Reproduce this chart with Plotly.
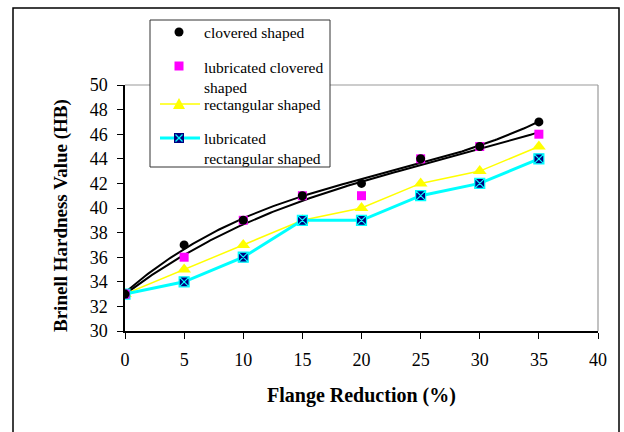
import numpy as np
import plotly.graph_objects as go

# ---- data ----
reduction = [0, 5, 10, 15, 20, 25, 30, 35]
clovered = [33, 37, 39, 41, 42, 44, 45, 47]
lub_clovered = [33, 36, 39, 41, 41, 44, 45, 46]
rectangular = [33, 35, 37, 39, 40, 42, 43, 45]
lub_rectangular = [33, 34, 36, 39, 39, 41, 42, 44]
x_ticks = [0, 5, 10, 15, 20, 25, 30, 35, 40]
y_ticks = [30, 32, 34, 36, 38, 40, 42, 44, 46, 48, 50]
names = ["clovered shaped", "lubricated clovered<br>shaped", "rectangular shaped",
         "lubricated<br>rectangular shaped"]

W, H = 624, 432
L, R, T, B = 125, 598, 85, 331  # plot area pixels
FONT = "Liberation Serif"


def px(x):
    return (x - L) / (R - L)


def py(y):
    return (B - y) / (B - T)


fig = go.Figure()

# trendlines (polynomial fits of the clovered series)
xs = np.linspace(0, 35, 200)
for ys in (clovered, lub_clovered):
    c = np.polyfit(reduction, ys, 3)
    fig.add_trace(go.Scatter(x=xs, y=np.polyval(c, xs), mode="lines",
                             line=dict(color="black", width=2), showlegend=False,
                             hoverinfo="skip"))

fig.add_trace(go.Scatter(x=reduction, y=rectangular, mode="lines+markers",
                         line=dict(color="#FFFF00", width=1.5),
                         marker=dict(symbol="triangle-up", size=12, color="#FFFF00"),
                         showlegend=False))
fig.add_trace(go.Scatter(x=reduction, y=lub_rectangular, mode="lines+markers",
                         line=dict(color="#00FFFF", width=3),
                         marker=dict(symbol="square-x", size=10, color="#000080",
                                     line=dict(color="#00FFFF", width=1.2)),
                         showlegend=False))
fig.add_trace(go.Scatter(x=reduction, y=lub_clovered, mode="markers",
                         marker=dict(symbol="square", size=9, color="#FF00FF"),
                         showlegend=False))
fig.add_trace(go.Scatter(x=reduction, y=clovered, mode="markers",
                         marker=dict(symbol="circle", size=9, color="black"),
                         showlegend=False))

shapes = []
# outer frame
shapes.append(dict(type="rect", xref="paper", yref="paper", x0=px(13), x1=px(619),
                   y0=py(440), y1=py(8), line=dict(color="black", width=1.5),
                   fillcolor="rgba(0,0,0,0)", layer="above"))
# plot-area border top / right (gray)
shapes.append(dict(type="line", xref="paper", yref="paper", x0=0, x1=1, y0=1, y1=1,
                   line=dict(color="#999999", width=1.2), layer="above"))
shapes.append(dict(type="line", xref="paper", yref="paper", x0=1, x1=1, y0=0, y1=1,
                   line=dict(color="#999999", width=1.2), layer="above"))
# legend box
shapes.append(dict(type="rect", xref="paper", yref="paper", x0=px(150), x1=px(330),
                   y0=py(167), y1=py(20), line=dict(color="#333333", width=1),
                   fillcolor="white", layer="above"))
# legend glyphs
cx = 179
r = 4.5
shapes.append(dict(type="circle", xref="paper", yref="paper", x0=px(cx - r), x1=px(cx + r),
                   y0=py(32 + r), y1=py(32 - r), fillcolor="black",
                   line=dict(color="black", width=0), layer="above"))
s = 4.5
shapes.append(dict(type="rect", xref="paper", yref="paper", x0=px(cx - s), x1=px(cx + s),
                   y0=py(66 + s), y1=py(66 - s), fillcolor="#FF00FF",
                   line=dict(color="#FF00FF", width=0), layer="above"))
shapes.append(dict(type="line", xref="paper", yref="paper", x0=px(160), x1=px(200),
                   y0=py(104), y1=py(104), line=dict(color="#FFFF00", width=1.5), layer="above"))
ty = 104
shapes.append(dict(type="path", xref="paper", yref="paper",
                   path=f"M {px(cx-6)} {py(ty+5)} L {px(cx+6)} {py(ty+5)} L {px(cx)} {py(ty-6)} Z",
                   fillcolor="#FFFF00", line=dict(color="#FFFF00", width=0), layer="above"))
qy = 138
shapes.append(dict(type="line", xref="paper", yref="paper", x0=px(160), x1=px(200),
                   y0=py(qy), y1=py(qy), line=dict(color="#00FFFF", width=3), layer="above"))
shapes.append(dict(type="rect", xref="paper", yref="paper", x0=px(cx - 5), x1=px(cx + 5),
                   y0=py(qy + 5), y1=py(qy - 5), fillcolor="#000080",
                   line=dict(color="#000080", width=0), layer="above"))
for a, b in ((-3.5, 3.5), (3.5, -3.5)):
    shapes.append(dict(type="line", xref="paper", yref="paper", x0=px(cx + a), x1=px(cx + b),
                       y0=py(qy - 3.5), y1=py(qy + 3.5), line=dict(color="#00FFFF", width=1.2),
                       layer="above"))

annotations = []
leg_text_y = [32, 77, 104, 148]
for name, yy in zip(names, leg_text_y):
    annotations.append(dict(xref="paper", yref="paper", x=px(202), y=py(yy), text=name,
                            showarrow=False, xanchor="left", yanchor="middle", align="left",
                            font=dict(family=FONT, size=15.5, color="black")))
annotations.append(dict(xref="paper", yref="paper", x=px(361), y=py(395),
                        text="<b>Flange Reduction (%)</b>", showarrow=False,
                        xanchor="center", yanchor="middle",
                        font=dict(family=FONT, size=20, color="black")))
annotations.append(dict(xref="paper", yref="paper", x=px(61), y=py(216),
                        text="<b>Brinell Hardness Value (HB)</b>", showarrow=False,
                        textangle=-90, xanchor="center", yanchor="middle",
                        font=dict(family=FONT, size=19, color="black")))

fig.update_layout(
    width=W, height=H,
    margin=dict(l=L, r=W - R, t=T, b=H - B),
    paper_bgcolor="white", plot_bgcolor="white",
    showlegend=False,
    shapes=shapes, annotations=annotations,
    font=dict(family=FONT, size=18, color="black"),
    xaxis=dict(range=[0, 40], tickvals=x_ticks, ticks="outside", ticklen=6,
               tickcolor="black", showline=True, linecolor="black", linewidth=1.5,
               showgrid=False, zeroline=False, ticklabelstandoff=6,
               tickfont=dict(family=FONT, size=18)),
    yaxis=dict(range=[30, 50], tickvals=y_ticks, ticks="outside", ticklen=6,
               tickcolor="black", showline=True, linecolor="black", linewidth=1.5,
               showgrid=False, zeroline=False, ticklabelstandoff=6,
               tickfont=dict(family=FONT, size=18)),
)

fig.write_html("out.html")
